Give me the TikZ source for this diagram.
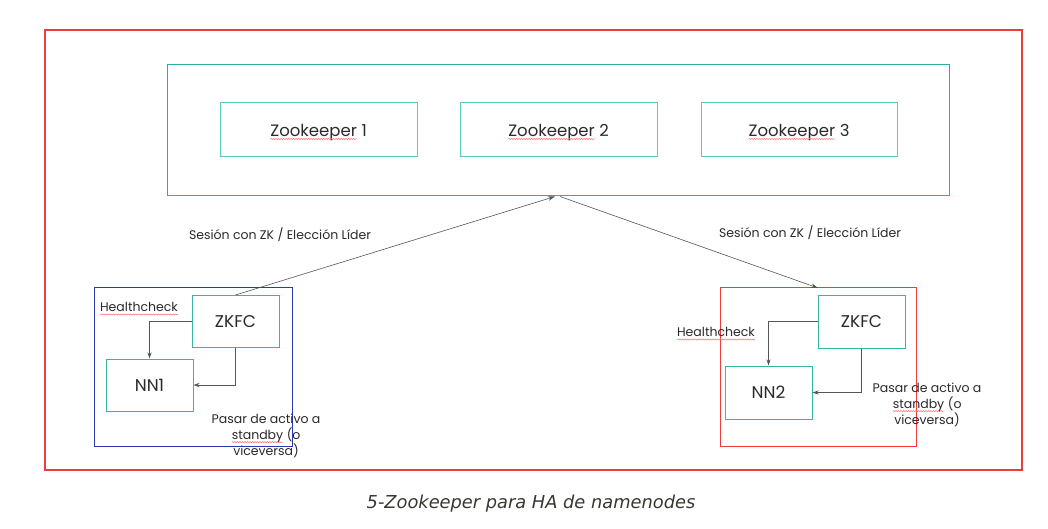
\documentclass[tikz,border=0pt]{standalone}
\usepackage{fontspec}
\setmainfont{Poppins}
\newfontfamily\capfont{DejaVu Sans}
\usetikzlibrary{arrows.meta,decorations.pathmorphing}
\definecolor{frameRed}{HTML}{EE3B3B}
\definecolor{tealDark}{HTML}{2BB0A0}
\definecolor{tealLight}{HTML}{5CC8BC}
\definecolor{boxBlue}{HTML}{2C38B0}
\definecolor{lineGray}{HTML}{555555}
\definecolor{txt}{HTML}{2A2A2A}
\definecolor{capcol}{HTML}{3A3630}
\tikzset{
  zkbox/.style={draw=tealLight, line width=1pt, minimum width=197pt, minimum height=54pt, inner sep=0pt, text=txt, font=\fontsize{16.5}{18}\selectfont},
  smallbox/.style={draw=tealDark!80!tealLight, line width=1pt, minimum width=87pt, minimum height=52pt, inner sep=0pt, text=txt, font=\fontsize{17}{19}\selectfont},
  lbl/.style={text=txt, font=\fontsize{12.5}{16}\selectfont, inner sep=0pt},
  conn/.style={draw=lineGray, line width=0.8pt, -{Stealth[length=6pt,width=4pt]}},
  sess/.style={draw=lineGray, line width=0.6pt, -{Stealth[length=7pt,width=4.5pt]}},
  squig/.style={draw=red!55, line width=0.5pt, decorate, decoration={snake, amplitude=0.6pt, segment length=2.5pt}},
  wordnode/.style={draw=none, inner sep=0pt, outer sep=0pt, minimum width=0pt, minimum height=0pt}
}
\newcommand\sqw[1]{\tikz[baseline=(w.base)]{\node[wordnode] (w) {#1}; \draw[squig] ([yshift=-2.5pt]w.base west) -- ([yshift=-2.5pt]w.base east);}}
\newcommand\lowtxt[1]{\raisebox{-6.5pt}[0pt][0pt]{#1}}
\begin{document}
\begin{tikzpicture}[x=1pt,y=-1pt]
\useasboundingbox[fill=white] (0,0) rectangle (1048,529);
% outer frame
\node[draw=frameRed, line width=1.2pt, minimum width=977pt, minimum height=440pt, inner sep=0pt] (frame) at (533.5,250) {};
% zookeeper ensemble
\node[draw=tealDark, line width=1pt, minimum width=782pt, minimum height=131pt, inner sep=0pt] (ens) at (558,130.5) {};
\node[zkbox] (zk1) at (318.5,130) {\lowtxt{\sqw{Zookeeper} 1}};
\node[zkbox] (zk2) at (558.5,130) {\lowtxt{\sqw{Zookeeper} 2}};
\node[zkbox, minimum width=196pt] (zk3) at (799,130) {\lowtxt{\sqw{Zookeeper} 3}};
% left group
\node[draw=boxBlue, line width=1pt, minimum width=198pt, minimum height=159pt, inner sep=0pt] (grpL) at (193,366.5) {};
\node[smallbox] (zkfcL) at (235.5,321.5) {ZKFC};
\node[smallbox] (nn1) at (149.5,385) {NN1};
% right group
\node[draw=frameRed, line width=1pt, minimum width=196pt, minimum height=159pt, inner sep=0pt] (grpR) at (818.5,366.5) {};
\node[smallbox, minimum height=53pt] (zkfcR) at (861.5,321.5) {ZKFC};
\node[smallbox, minimum height=53pt] (nn2) at (768.5,392.5) {NN2};
% session connectors
\coordinate (tipL) at (555,196.5);
\coordinate (startR) at (560,196.5);
\coordinate (tipR) at (818,288);
\draw[sess] (zkfcL.north) -- (tipL);
\draw[sess] (startR) -- (tipR);
\node[lbl] (sessL) at (280,235) {Sesión con ZK / Elección Líder};
\node[lbl] (sessR) at (810,233) {Sesión con ZK / Elección Líder};
% healthcheck arrows
\draw[conn] (zkfcL.west) -| (nn1.north);
\draw[conn] (zkfcL.south) |- (nn1.east);
\draw[conn] (zkfcR.west) -| (nn2.north);
\draw[conn] (zkfcR.south) |- (nn2.east);
\node[lbl] (hcL) at (139,309) {\sqw{Healthcheck}};
\node[lbl] (hcR) at (716,334) {\sqw{Healthcheck}};
\node[lbl, align=center] (paL) at (266,436) {Pasar de activo a\\\sqw{standby} (o\\viceversa)};
\node[lbl, align=center] (paR) at (927,405) {Pasar de activo a\\\sqw{standby} (o\\viceversa)};
% caption
\node[text=capcol, font=\capfont\itshape\fontsize{17.8}{20}\selectfont, inner sep=0pt] (cap) at (531,504) {5-Zookeeper para HA de namenodes};
\end{tikzpicture}
\end{document}
